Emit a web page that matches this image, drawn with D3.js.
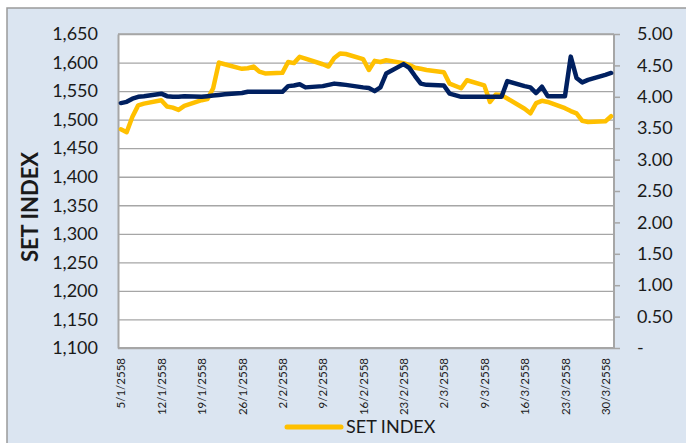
<!DOCTYPE html>
<html>
<head>
<meta charset="utf-8">
<script src="https://cdn.jsdelivr.net/npm/d3@7"></script>
<style>
  body { margin: 0; background: #fff; }
  svg { display: block; }
  text { font-family: Lato, "Open Sans", sans-serif; fill: #1a1a1a; }
</style>
</head>
<body>
<div id="app"></div>
<script>
// DATA
// trading days, Jan 5 - Mar 31 2015 (2558 BE), Mar 4 holiday
const dates = [
  '2015-01-05','2015-01-06','2015-01-07','2015-01-08','2015-01-09',
  '2015-01-12','2015-01-13','2015-01-14','2015-01-15','2015-01-16',
  '2015-01-19','2015-01-20','2015-01-21','2015-01-22','2015-01-23',
  '2015-01-26','2015-01-27','2015-01-28','2015-01-29','2015-01-30',
  '2015-02-02','2015-02-03','2015-02-04','2015-02-05','2015-02-06',
  '2015-02-09','2015-02-10','2015-02-11','2015-02-12','2015-02-13',
  '2015-02-16','2015-02-17','2015-02-18','2015-02-19','2015-02-20',
  '2015-02-23','2015-02-24','2015-02-25','2015-02-26','2015-02-27',
  '2015-03-02','2015-03-03','2015-03-05','2015-03-06',
  '2015-03-09','2015-03-10','2015-03-11','2015-03-12','2015-03-13',
  '2015-03-16','2015-03-17','2015-03-18','2015-03-19','2015-03-20',
  '2015-03-23','2015-03-24','2015-03-25','2015-03-26','2015-03-27',
  '2015-03-30','2015-03-31'
];

const setIndex = [
  1483, 1478, 1505, 1525, 1528,
  1534, 1523, 1521, 1517, 1524,
  1534, 1536, 1555, 1600, 1597,
  1589, 1590, 1593, 1584, 1581,
  1582, 1601, 1599, 1610, 1607,
  1597, 1593, 1608, 1616, 1615,
  1606, 1587, 1603, 1601, 1604,
  1599, 1596, 1591, 1589, 1587,
  1583, 1563, 1555, 1569,
  1560, 1531, 1544, 1543, 1537,
  1519, 1511, 1529, 1533, 1531,
  1520, 1515, 1511, 1498, 1496,
  1497, 1506
];

// second series, right axis (no legend entry)
const price = [
  3.90, 3.92, 3.97, 4.00, 4.01,
  4.05, 4.01, 4.00, 4.00, 4.01,
  4.00, 4.01, 4.02, 4.03, 4.04,
  4.06, 4.08, 4.08, 4.08, 4.08,
  4.08, 4.17, 4.18, 4.20, 4.15,
  4.17, 4.19, 4.21, 4.20, 4.19,
  4.15, 4.14, 4.09, 4.15, 4.37,
  4.52, 4.46, 4.33, 4.21, 4.19,
  4.18, 4.05, 4.00, 4.00,
  4.00, 4.00, 4.00, 4.00, 4.25,
  4.17, 4.15, 4.06, 4.16, 4.01,
  4.01, 4.64, 4.30, 4.23, 4.27,
  4.35, 4.38
];

const leftTicks = d3.range(1100, 1651, 50);
const rightTicks = d3.range(0, 5.01, 0.5);
const seriesName = 'SET INDEX';

// LAYOUT
const W = 686, H = 443;
const plot = { left: 118, right: 614, top: 34, bottom: 348 };

const parse = d3.timeParse('%Y-%m-%d');
const days = dates.map(parse);
const midday = d => d3.timeHour.offset(d, 12);

const x = d3.scaleTime()
  .domain([parse('2015-01-05'), parse('2015-04-01')])
  .range([plot.left, plot.right]);
const yL = d3.scaleLinear().domain([1100, 1650]).range([plot.bottom, plot.top]);
const yR = d3.scaleLinear().domain([0, 5]).range([plot.bottom, plot.top]);

// weekly labels, every Monday
const weekTicks = d3.timeMonday.range(parse('2015-01-05'), parse('2015-03-31')).map(midday);
const thaiDate = d => `${d.getDate()}/${d.getMonth() + 1}/${d.getFullYear() + 543}`;

const $svg = d3.select('#app')
  .append('svg')
  .attr('width', W)
  .attr('height', H);

// chart area
$svg.append('rect')
  .attr('x', 7).attr('y', 8)
  .attr('width', W + 10).attr('height', H + 10)
  .attr('fill', '#dbe5f1')
  .attr('stroke', '#9a9a9a')
  .attr('stroke-width', 1.5);

$svg.append('rect')
  .attr('x', plot.left).attr('y', plot.top)
  .attr('width', plot.right - plot.left).attr('height', plot.bottom - plot.top)
  .attr('fill', '#fff');

// gridlines
$svg.append('g')
  .attr('transform', `translate(${plot.left},0)`)
  .call(d3.axisLeft(yL).tickValues(leftTicks).tickSize(-(plot.right - plot.left)).tickFormat(''))
  .call(g => g.select('.domain').remove())
  .call(g => g.selectAll('line').attr('stroke', '#a6a6a6').attr('stroke-width', 1.3));

// left axis
$svg.append('g')
  .attr('transform', `translate(${plot.left},0)`)
  .call(d3.axisLeft(yL).tickValues(leftTicks).tickSize(0).tickPadding(20).tickFormat(d3.format(',')))
  .call(g => g.select('.domain').attr('stroke', '#a6a6a6').attr('stroke-width', 2))
  .call(g => g.selectAll('text').attr('font-size', 18).attr('fill', '#1a1a1a'));

// right axis
$svg.append('g')
  .attr('transform', `translate(${plot.right},0)`)
  .call(d3.axisRight(yR).tickValues(rightTicks).tickSize(6).tickPadding(17)
    .tickFormat(d => d === 0 ? '-' : d3.format('.2f')(d)))
  .call(g => g.select('.domain').attr('stroke', '#a6a6a6').attr('stroke-width', 2).attr('d', `M0,${plot.top}V${plot.bottom}`))
  .call(g => g.selectAll('line').attr('stroke', '#a6a6a6').attr('stroke-width', 1.5))
  .call(g => g.selectAll('text').attr('font-size', 18).attr('fill', '#1a1a1a'));

// bottom axis
$svg.append('g')
  .attr('transform', `translate(0,${plot.bottom})`)
  .call(d3.axisBottom(x).tickValues(weekTicks).tickSize(0).tickFormat(thaiDate))
  .call(g => g.select('.domain').attr('stroke', '#a6a6a6').attr('stroke-width', 2).attr('d', `M${plot.left},0H${plot.right}`))
  .call(g => g.selectAll('text')
    .attr('font-family', '"Liberation Sans", Arial, sans-serif')
    .attr('font-size', 11.5)
    .attr('fill', '#404040')
    .attr('transform', 'rotate(-90)')
    .attr('text-anchor', 'end')
    .attr('x', -10)
    .attr('y', 0)
    .attr('dy', '0.35em'));

// top border of plot
$svg.append('line')
  .attr('x1', plot.left).attr('x2', plot.right)
  .attr('y1', plot.top).attr('y2', plot.top)
  .attr('stroke', '#a6a6a6').attr('stroke-width', 1.5);

// series
const lineL = d3.line().x((d, i) => x(midday(days[i]))).y(d => yL(d));
const lineR = d3.line().x((d, i) => x(midday(days[i]))).y(d => yR(d));

$svg.append('path')
  .datum(setIndex)
  .attr('d', lineL)
  .attr('fill', 'none')
  .attr('stroke', '#ffc000')
  .attr('stroke-width', 4.5)
  .attr('stroke-linejoin', 'round')
  .attr('stroke-linecap', 'round');

$svg.append('path')
  .datum(price)
  .attr('d', lineR)
  .attr('fill', 'none')
  .attr('stroke', '#002060')
  .attr('stroke-width', 4.5)
  .attr('stroke-linejoin', 'round')
  .attr('stroke-linecap', 'round');

// axis title
$svg.append('text')
  .attr('transform', `translate(38,207) rotate(-90)`)
  .attr('text-anchor', 'middle')
  .attr('font-family', '"Liberation Sans", Arial, sans-serif')
  .attr('font-weight', 'bold')
  .attr('font-size', 22)
  .text(seriesName);

// legend
const $legend = $svg.append('g').attr('transform', 'translate(287,427)');
$legend.append('line')
  .attr('x1', 0).attr('x2', 54)
  .attr('stroke', '#ffc000')
  .attr('stroke-width', 5)
  .attr('stroke-linecap', 'round');
$legend.append('text')
  .attr('x', 59).attr('dy', '0.35em')
  .attr('font-size', 18)
  .text(seriesName);
</script>
</body>
</html>
